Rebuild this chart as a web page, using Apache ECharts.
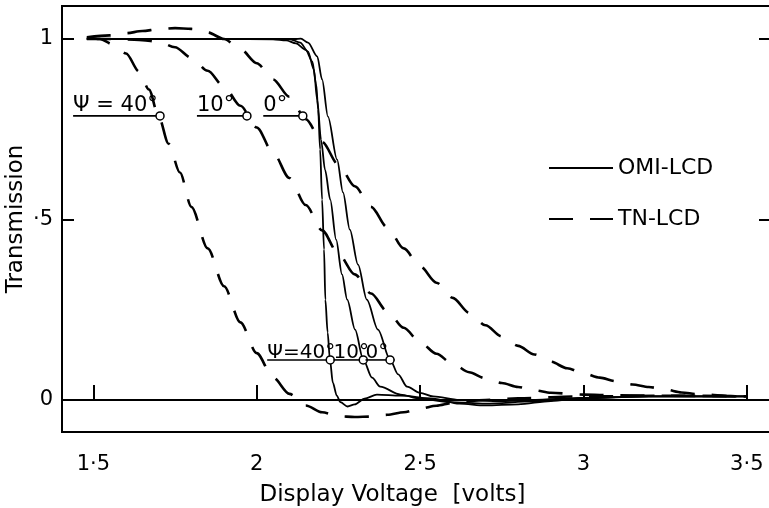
<!DOCTYPE html>
<html>
<head>
<meta charset="utf-8">
<title>Transmission vs display voltage</title>
<script src="https://cdn.jsdelivr.net/npm/echarts@6/dist/echarts.min.js"></script>
<style>
  html, body { margin: 0; padding: 0; background: #fff; }
  #chart { width: 769px; height: 508px; }
</style>
</head>
<body>
<div id="chart"></div>
<script>
// Axis ticks and their printed labels
const xTicks = [1.5, 2, 2.5, 3, 3.5];
const xTickLabels = ['1·5', '2', '2·5', '3', '3·5'];
const yTicks = [0, 0.5, 1];
const yTickLabels = ['0', '·5', '1'];

// OMI-LCD transmission curves [voltage, transmission] for viewing angles 40°, 10°, 0°
const omi40 = [[1.48,1.0],[1.9,1.0],[2.05,0.999],[2.09,0.996],[2.12,0.988],[2.15,0.97],[2.17,0.938],[2.182,0.874],[2.188,0.805],[2.194,0.694],[2.2,0.555],[2.206,0.417],[2.21,0.278],[2.217,0.187],[2.224,0.112],[2.233,0.048],[2.245,0.012],[2.256,-0.006],[2.278,-0.018],[2.3,-0.012],[2.33,0.004],[2.368,0.015],[2.44,0.012],[2.54,0.004],[2.62,-0.01],[2.7,-0.015],[2.8,-0.012],[2.9,-0.003],[3.0,0.006],[3.2,0.01],[3.5,0.01]];
const omi10 = [[1.48,1.0],[1.9,1.0],[2.1,1.0],[2.133,0.99],[2.157,0.965],[2.175,0.915],[2.185,0.832],[2.197,0.72],[2.209,0.638],[2.225,0.555],[2.243,0.444],[2.261,0.348],[2.277,0.278],[2.301,0.195],[2.326,0.112],[2.353,0.062],[2.378,0.037],[2.44,0.015],[2.5,0.004],[2.59,-0.006],[2.7,-0.01],[2.85,-0.004],[3.0,0.006],[3.2,0.01],[3.5,0.01]];
const omi0 = [[1.48,1.0],[1.9,1.0],[2.117,1.0],[2.135,1.001],[2.157,0.99],[2.185,0.952],[2.2,0.888],[2.218,0.785],[2.246,0.666],[2.264,0.575],[2.285,0.472],[2.31,0.375],[2.337,0.278],[2.371,0.195],[2.408,0.112],[2.433,0.071],[2.46,0.037],[2.5,0.02],[2.54,0.01],[2.62,0.0],[2.75,-0.003],[3.0,0.005],[3.2,0.01],[3.5,0.01]];

// TN-LCD transmission curves [voltage, transmission] for viewing angles 40°, 10°, 0°
const tn40 = [[1.48,1.005],[1.52,1.0],[1.56,0.985],[1.6,0.96],[1.64,0.91],[1.67,0.86],[1.7,0.785],[1.73,0.71],[1.765,0.63],[1.8,0.535],[1.85,0.42],[1.9,0.315],[1.95,0.215],[2.0,0.13],[2.05,0.062],[2.1,0.017],[2.15,-0.015],[2.2,-0.034],[2.25,-0.045],[2.3,-0.047],[2.35,-0.046],[2.4,-0.041],[2.45,-0.034],[2.5,-0.024],[2.55,-0.016],[2.6,-0.008],[2.7,0.0],[2.8,0.005],[3.0,0.01],[3.25,0.012],[3.5,0.01]];
const tn10 = [[1.48,1.0],[1.55,1.0],[1.6,0.999],[1.65,0.997],[1.7,0.992],[1.75,0.977],[1.8,0.948],[1.85,0.912],[1.9,0.868],[1.95,0.815],[2.0,0.755],[2.05,0.685],[2.1,0.615],[2.15,0.54],[2.2,0.47],[2.25,0.405],[2.3,0.348],[2.35,0.295],[2.4,0.245],[2.45,0.2],[2.5,0.16],[2.55,0.128],[2.6,0.1],[2.65,0.077],[2.7,0.06],[2.75,0.047],[2.8,0.036],[2.85,0.027],[2.9,0.02],[3.0,0.015],[3.1,0.013],[3.25,0.012],[3.5,0.01]];
const tn0 = [[1.48,1.005],[1.55,1.01],[1.6,1.016],[1.65,1.022],[1.7,1.027],[1.75,1.03],[1.8,1.028],[1.85,1.018],[1.9,1.0],[1.95,0.972],[2.0,0.933],[2.05,0.888],[2.1,0.84],[2.15,0.778],[2.2,0.715],[2.25,0.652],[2.3,0.592],[2.35,0.535],[2.4,0.478],[2.45,0.42],[2.5,0.37],[2.55,0.325],[2.6,0.283],[2.65,0.242],[2.7,0.207],[2.75,0.176],[2.8,0.15],[2.85,0.126],[2.9,0.106],[2.95,0.088],[3.0,0.074],[3.05,0.062],[3.1,0.052],[3.15,0.043],[3.2,0.036],[3.25,0.029],[3.3,0.021],[3.35,0.016],[3.4,0.014],[3.45,0.011],[3.5,0.007]];

// Viewing-angle markers: [underline start voltage, underline end voltage, transmission]
const tnMarkLabels = ['Ψ = 40°', '10°', '0°'];
const tnMarks = [[1.438, 1.704, 0.787], [1.817, 1.970, 0.787], [2.020, 2.141, 0.787]];
const tnMarkCircles = [1.704, 1.970, 2.141];
const omiMarkLabels = ['Ψ=40°', '10°', '0°'];
const omiMarks = [[2.032, 2.225, 0.111], [2.235, 2.326, 0.111], [2.333, 2.422, 0.111]];
const omiMarkCircles = [2.225, 2.326, 2.408];

const FONT = '"DejaVu Sans", sans-serif';
const chart = echarts.init(document.getElementById('chart'), null, { renderer: 'canvas' });

function tickLabel(ticks, labels) {
  return function (v) {
    const i = ticks.findIndex(t => Math.abs(t - v) < 1e-6);
    return i >= 0 ? labels[i] : '';
  };
}

function solid(name, data) {
  return {
    type: 'line', name, data, symbol: 'none', smooth: 0.3, smoothMonotone: 'x',
    lineStyle: { color: '#000', width: 1.8 }, itemStyle: { color: '#000' }, z: 3
  };
}
function dashed(name, data) {
  return {
    type: 'line', name, data, symbol: 'none', smooth: 0.3, smoothMonotone: 'x',
    lineStyle: { color: '#000', width: 2.6, type: [24, 17] }, itemStyle: { color: '#000' }, z: 2
  };
}

// Underline + open circle + angle text for each marker group
function markerSeries(data, labels, circles, textDy, fontSize) {
  return {
    type: 'custom', data, z: 5, silent: true,
    renderItem: function (params, api) {
      const i = params.dataIndex;
      const p0 = api.coord([api.value(0), api.value(2)]);
      const p1 = api.coord([api.value(1), api.value(2)]);
      const c = api.coord([circles[i], api.value(2)]);
      return {
        type: 'group',
        children: [
          { type: 'line', shape: { x1: p0[0], y1: p0[1], x2: p1[0], y2: p1[1] },
            style: { stroke: '#000', lineWidth: 1.6 } },
          { type: 'circle', shape: { cx: c[0], cy: c[1], r: 4 },
            style: { fill: '#fff', stroke: '#000', lineWidth: 1.5 } },
          { type: 'text', x: p0[0], y: p0[1] + textDy,
            style: { text: labels[i], font: fontSize + 'px ' + FONT, fill: '#000',
                     textAlign: 'left', textVerticalAlign: 'middle' } }
        ]
      };
    }
  };
}

const X_MIN = 1.404, X_MAX = 3.574;
const Y_MIN = -0.0886, Y_MAX = 1.0914;

chart.setOption({
  animation: false,
  backgroundColor: '#fff',
  textStyle: { fontFamily: FONT, color: '#000' },
  grid: { left: 62, right: -2, top: 6, bottom: 76, containLabel: false, outerBoundsMode: 'none',
          show: true, borderColor: '#000', borderWidth: 2 },
  legend: {
    data: ['OMI-LCD', 'TN-LCD'], orient: 'vertical', left: 548, top: 156, padding: 0,
    itemWidth: 64, itemHeight: 14, itemGap: 27, selectedMode: false,
    itemStyle: { opacity: 0 },
    textStyle: { fontFamily: FONT, fontSize: 22, color: '#000', lineHeight: 24 }
  },
  xAxis: {
    type: 'value', min: X_MIN, max: X_MAX,
    name: 'Display Voltage  [volts]', nameLocation: 'middle', nameGap: 52, nameMoveOverlap: false,
    nameTextStyle: { fontFamily: FONT, fontSize: 23, color: '#000', padding: [0, 48, 0, 0] },
    axisLine: { show: true, lineStyle: { color: '#000', width: 2 } },
    axisTick: { show: true, inside: true, length: 15, customValues: xTicks, lineStyle: { color: '#000', width: 2 } },
    axisLabel: { customValues: xTicks, formatter: tickLabel(xTicks, xTickLabels), margin: 22,
                 fontFamily: FONT, fontSize: 21, color: '#000' },
    splitLine: { show: false }
  },
  yAxis: [{
    type: 'value', min: Y_MIN, max: Y_MAX, position: 'left',
    name: 'Transmission', nameLocation: 'middle', nameGap: 34, nameMoveOverlap: false,
    nameTextStyle: { fontFamily: FONT, fontSize: 23, color: '#000' },
    axisLine: { show: true, lineStyle: { color: '#000', width: 2 } },
    axisTick: { show: true, inside: true, length: 12, customValues: yTicks, lineStyle: { color: '#000', width: 2 } },
    axisLabel: { customValues: yTicks, formatter: tickLabel(yTicks, yTickLabels), margin: 9,
                 fontFamily: FONT, fontSize: 21, color: '#000' },
    splitLine: { show: false }
  }, {
    type: 'value', min: Y_MIN, max: Y_MAX, position: 'right',
    axisLine: { show: true, lineStyle: { color: '#000', width: 2 } },
    axisTick: { show: true, inside: true, length: 12, customValues: yTicks, lineStyle: { color: '#000', width: 2 } },
    axisLabel: { show: false },
    splitLine: { show: false }
  }],
  series: [
    dashed('TN-LCD', tn40), dashed('TN-LCD', tn10), dashed('TN-LCD', tn0),
    solid('OMI-LCD', omi40), solid('OMI-LCD', omi10), solid('OMI-LCD', omi0),
    markerSeries(tnMarks, tnMarkLabels, tnMarkCircles, -10, 21),
    markerSeries(omiMarks, omiMarkLabels, omiMarkCircles, -7, 20)
  ]
});
</script>
</body>
</html>
